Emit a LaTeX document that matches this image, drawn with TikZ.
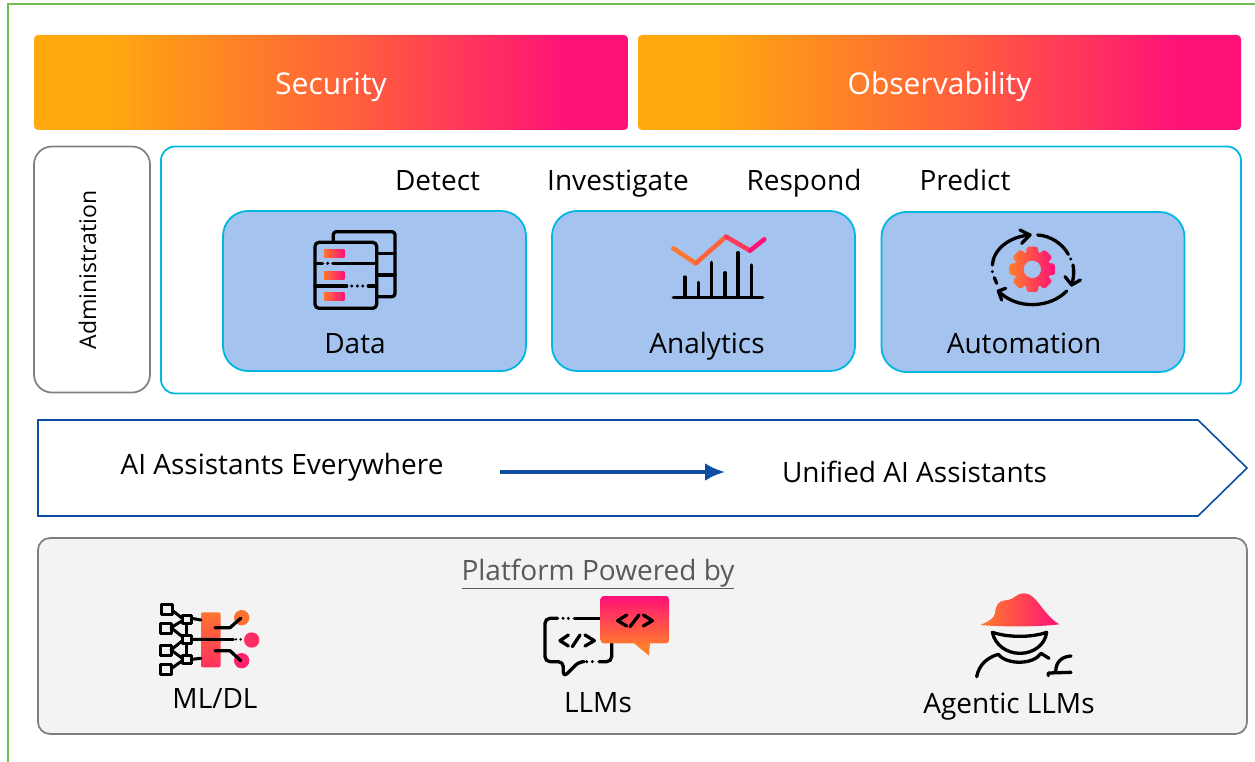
\documentclass[tikz,border=0pt]{standalone}
\usepackage{fontspec}
\usetikzlibrary{arrows.meta}
\setmainfont{Open Sans}
\definecolor{gorange}{HTML}{FFA90F}
\definecolor{gmid}{HTML}{FF5F3C}
\definecolor{gpink}{HTML}{FF1178}
\definecolor{cyanline}{HTML}{00B7E0}
\definecolor{cardfill}{HTML}{A4C3EE}
\definecolor{navy}{HTML}{0B4EA2}
\definecolor{framegreen}{HTML}{70BE50}
\definecolor{boxgray}{HTML}{7F7F7F}
\definecolor{platfill}{HTML}{F3F3F3}
\definecolor{plattext}{HTML}{595959}
\pgfdeclarehorizontalshading{bargrad}{100bp}{color(0bp)=(gorange); color(31bp)=(gorange); color(52bp)=(gmid); color(70bp)=(gpink); color(100bp)=(gpink)}
\pgfdeclareverticalshading{pinkdown}{100bp}{color(0bp)=(gmid!70!gorange); color(25bp)=(gmid!70!gorange); color(75bp)=(gpink); color(100bp)=(gpink)}
\tikzset{
  lbl/.style={font=\fontsize{28}{32}\selectfont, text=black, inner sep=0pt, text height=24pt, text depth=4pt},
  banner/.style={shading=bargrad, rounded corners=4pt, text=white, font=\fontsize{30}{34}\selectfont, inner sep=0pt, outer sep=0pt, anchor=north west, text height=26pt, text depth=2pt},
  card/.style={draw=cyanline, line width=1.8pt, fill=cardfill, rounded corners=25pt, minimum width=303pt, minimum height=160pt, inner sep=0pt, outer sep=0pt, anchor=north west},
  ink/.style={draw=black, line width=3.3pt, line cap=round, line join=round},
  thin ink/.style={draw=black, line width=3pt, line cap=round, line join=round},
}
\begin{document}
\begin{tikzpicture}[x=1pt,y=-1pt]
\useasboundingbox (0,0) rectangle (1255,762);
% outer frame
\coordinate (fa) at (8,762); \coordinate (fb) at (8,4); \coordinate (fc) at (1255,4);
\draw[framegreen, line width=1.4pt] (fa) -- (fb) -- (fc);
% banners
\node[banner, minimum width=594pt, minimum height=95pt] (sec) at (34,35) {Security};
\node[banner, minimum width=603pt, minimum height=95pt] (obs) at (638,35) {Observability};
% admin
\node[draw=boxgray, line width=1.7pt, rounded corners=18pt, minimum width=116pt, minimum height=246pt, anchor=north west, inner sep=0pt, outer sep=0pt] (admin) at (34,146.5) {};
\node[lbl, rotate=90, font=\fontsize{23}{27}\selectfont, text height=20pt] (admint) at (88,270) {Administration};
% main panel
\node[draw=cyanline, line width=1.8pt, rounded corners=14pt, minimum width=1080pt, minimum height=247pt, anchor=north west, inner sep=0pt, outer sep=0pt] (panel) at (161,146.5) {};
\node[lbl] (detect) at (437.5,180) {Detect};
\node[lbl] (invest) at (618,180) {Investigate};
\node[lbl] (respond) at (804,180) {Respond};
\node[lbl] (predict) at (965,180) {Predict};
\node[card] (data) at (223,211) {};
\node[card] (analytics) at (552,211) {};
\node[card] (automation) at (881.5,212) {};
\node[lbl] (datat) at (355,343) {Data};
\node[lbl] (analyticst) at (707,343) {Analytics};
\node[lbl] (automationt) at (1024,343) {Automation};
% data icon
\begin{scope}[shift={(290,210)},x=0.33333pt,y=-0.33333pt]
\draw[ink,rounded corners=3pt] (130,97) -- (130,65) -- (315,65) -- (315,260) -- (260,260);
\draw[ink] (260,130) -- (315,130) (260,195) -- (315,195);
\draw[ink,rounded corners=4pt] (75,97) rectangle (260,295);
\draw[ink] (75,160) -- (98,160) (128,160) -- (260,160) (75,228) -- (170,228) (235,228) -- (260,228);
\foreach \p in {113}{\fill (\p,160) circle (5);}
\foreach \p in {185,202,218}{\fill (\p,228) circle (5);}
\foreach \p in {120,184,248}{\shade[left color=gmid!70!gorange,right color=gpink] (102,\p) rectangle (163,\p+24);}
\end{scope}
% analytics icon
\begin{scope}[shift={(650,215)},x=0.33333pt,y=-0.33333pt]
\draw[line width=4.5pt,line cap=round,color=gmid!70!gorange] (70,100) -- (137,145);
\draw[line width=4.5pt,line cap=round,color=gmid!95!gorange] (137,145) -- (228,65);
\draw[line width=4.5pt,line cap=round,color=gmid!50!gpink] (228,65) -- (300,107);
\draw[line width=4.5pt,line cap=round,color=gpink] (300,107) -- (343,73);
\draw[ink] (70,247) -- (338,247);
\foreach \x/\t in {105/186,145/202,185/142,225/173,264/113,304/150}{\draw[ink] (\x,247) -- (\x,\t);}
\end{scope}
% automation icon
\begin{scope}[shift={(975,215)},x=0.33333pt,y=-0.33333pt]
\draw[ink] (65,205) -- (58,188);
\fill (52,170) circle (5);
\draw[ink] (52,150) .. controls (55,105) and (100,65) .. (165,60);
\draw[ink] (135,45) -- (165,60) -- (140,85);
\draw[ink] (188,60) .. controls (225,62) and (262,85) .. (280,118);
\fill (287,132) circle (5);
\draw[ink] (294,150) .. controls (298,170) and (296,190) .. (290,210);
\draw[ink] (270,185) -- (290,210) -- (316,195);
\draw[ink] (275,228) .. controls (225,280) and (125,285) .. (70,228);
\draw[ink] (92,220) -- (70,228) -- (80,255);
\shade[left color=gmid!60!gorange,right color=gpink,rounded corners=2.5pt,shift={(172,163)}]
  (14:70) \foreach \a in {0,45,...,315}{ -- (\a+14:70) -- (\a+22:50) -- (\a+45-22:50) -- (\a+45-14:70)} -- cycle;
\fill[cardfill] (172,163) circle (26);
\end{scope}
% progress arrow
\coordinate (pa) at (38,420); \coordinate (pb) at (1198,420); \coordinate (pc) at (1247,468); \coordinate (pd) at (1198,516); \coordinate (pe) at (38,516);
\draw[navy,line width=1.6pt,line join=miter] (pa) -- (pb) -- (pc) -- (pd) -- (pe) -- cycle;
\node[lbl] (aie) at (282,464) {AI Assistants Everywhere};
\node[lbl] (uai) at (914.5,472) {Unified AI Assistants};
\coordinate (arra) at (500,472); \coordinate (arrb) at (725,472);
\draw[navy,line width=4.2pt,-{Latex[length=20pt,width=18pt]}] (arra) -- (arrb);
% platform
\node[draw=boxgray, fill=platfill, line width=1.7pt, rounded corners=12pt, minimum width=1209pt, minimum height=196pt, anchor=north west, inner sep=0pt, outer sep=0pt] (plat) at (38,538) {};
\node[lbl, text=plattext] (platt) at (598,570) {\underline{Platform Powered by}};
\node[lbl] (ml) at (215,698) {ML/DL};
\node[lbl] (llm) at (598,702) {LLMs};
\node[lbl] (agent) at (1009,703) {Agentic LLMs};
% ML icon
\begin{scope}[shift={(150,590)},x=0.33333pt,y=-0.33333pt]
\shade[top color=gmid!70!gorange,bottom color=gmid!40!gpink,rounded corners=2pt] (153,67) rectangle (212,232);
\fill[gmid!75!gorange] (275,83) circle (23);
\fill[gmid!35!gpink] (305,150) circle (23);
\fill[gmid!25!gpink] (275,212) circle (23);
\draw[ink] (195,113) -- (240,113) -- (272,85);
\draw[ink] (195,148) -- (250,148);
\fill (258,148) circle (4); \fill (272,148) circle (4);
\draw[ink] (195,182) -- (240,182) -- (272,212);
\draw[thin ink] (33,42) rectangle (68,72);
\draw[thin ink] (30,100) rectangle (63,130);
\draw[thin ink] (30,165) rectangle (63,195);
\draw[thin ink] (30,224) rectangle (65,254);
\draw[thin ink] (97,75) rectangle (125,101);
\draw[thin ink] (97,135) rectangle (125,161);
\draw[thin ink] (97,195) rectangle (125,221);
\draw[thin ink] (68,62) -- (97,85) (63,113) -- (97,92) (125,85) -- (153,90);
\draw[thin ink] (63,113) -- (97,140) (63,180) -- (97,152) (125,148) -- (195,148);
\draw[thin ink] (63,180) -- (97,205) (65,235) -- (97,212) (125,208) -- (153,205);
\draw[thin ink] (110,101) -- (110,135) (110,161) -- (110,195);
\end{scope}
% LLM icon
\begin{scope}[shift={(535,590)},x=0.33333pt,y=-0.33333pt]
\draw[ink] (195,85) -- (118,85);
\fill (100,85) circle (5); \fill (84,85) circle (5);
\draw[ink,rounded corners=5pt] (68,85) -- (30,85) -- (30,215) -- (85,215) -- (85,262) -- (132,215) -- (140,215);
\fill (155,215) circle (5); \fill (172,215) circle (5);
\draw[ink,rounded corners=5pt] (192,215) -- (230,215) -- (230,160);
\fill[gmid!60!gorange] (295,158) -- (342,197) -- (345,158) -- cycle;
\shade[shading=pinkdown,rounded corners=3pt] (197,18) rectangle (402,160);
\draw[ink] (275,75) -- (248,92) -- (275,108) (285,110) -- (312,75) (325,75) -- (352,92) -- (325,108);
\draw[ink] (100,135) -- (75,152) -- (100,168) (112,170) -- (135,135) (150,135) -- (178,152) -- (150,168);
\end{scope}
% agent icon
\begin{scope}[shift={(965,585)},x=0.33333pt,y=-0.33333pt]
\shade[left color=gmid!60!gorange,right color=gpink]
 (45,120) .. controls (70,110) and (88,100) .. (90,85) .. controls (92,60) and (100,48) .. (120,46)
 .. controls (150,45) and (150,25) .. (178,25) .. controls (215,25) and (232,88) .. (283,118)
 .. controls (220,126) and (110,126) .. (45,120) -- cycle;
\draw[ink] (82,142) .. controls (130,158) and (200,158) .. (245,142) .. controls (240,180) and (205,205) .. (165,205) .. controls (125,205) and (90,180) .. (82,142) -- cycle;
\draw[ink] (35,275) .. controls (42,240) and (65,218) .. (100,208) .. controls (125,240) and (205,240) .. (228,205) -- (252,220);
\draw[ink] (250,272) -- (250,264) -- (318,262);
\draw[ink] (272,262) .. controls (272,230) and (290,215) .. (318,213);
\end{scope}
\end{tikzpicture}
\end{document}
